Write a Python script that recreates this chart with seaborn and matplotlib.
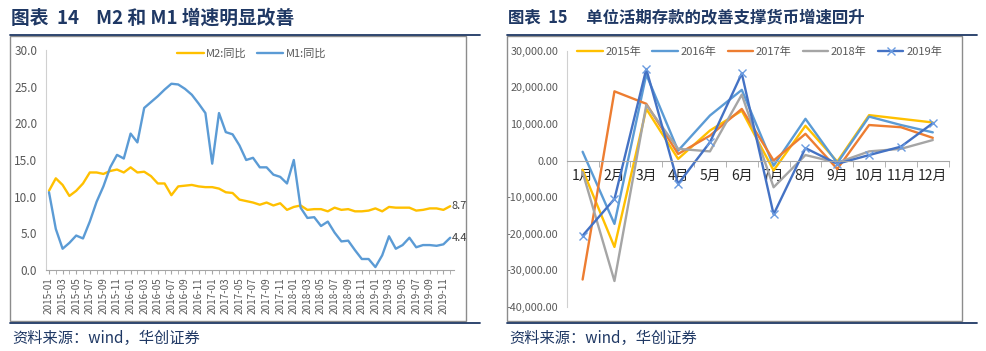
import numpy as np
import pandas as pd
import matplotlib
matplotlib.use('Agg')
import matplotlib.pyplot as plt
from matplotlib.patches import Rectangle
from matplotlib.lines import Line2D
from matplotlib.ticker import FuncFormatter, MultipleLocator
import seaborn as sns

sns.set_style('white')
plt.rcParams['font.family'] = ['Noto Sans CJK SC', 'DejaVu Sans']
plt.rcParams['axes.unicode_minus'] = False

# 左图：M2、M1 同比（%）
months = pd.date_range('2015-01-01', periods=60, freq='MS').strftime('%Y-%m').tolist()
m2_yoy = [10.8, 12.5, 11.6, 10.1, 10.8, 11.8, 13.3, 13.3, 13.1, 13.5, 13.7, 13.3,
          14.0, 13.3, 13.4, 12.8, 11.8, 11.8, 10.2, 11.4, 11.5, 11.6, 11.4, 11.3,
          11.3, 11.1, 10.6, 10.5, 9.6, 9.4, 9.2, 8.9, 9.2, 8.8, 9.1, 8.2,
          8.6, 8.8, 8.2, 8.3, 8.3, 8.0, 8.5, 8.2, 8.3, 8.0, 8.0, 8.1,
          8.4, 8.0, 8.6, 8.5, 8.5, 8.5, 8.1, 8.2, 8.4, 8.4, 8.2, 8.7]
m1_yoy = [10.6, 5.6, 2.9, 3.7, 4.7, 4.3, 6.6, 9.3, 11.4, 14.0, 15.7, 15.2,
          18.6, 17.4, 22.1, 22.9, 23.7, 24.6, 25.4, 25.3, 24.7, 23.9, 22.7, 21.4,
          14.5, 21.4, 18.8, 18.5, 17.0, 15.0, 15.3, 14.0, 14.0, 13.0, 12.7, 11.8,
          15.0, 8.5, 7.1, 7.2, 6.0, 6.6, 5.1, 3.9, 4.0, 2.7, 1.5, 1.5,
          0.4, 2.0, 4.6, 2.9, 3.4, 4.4, 3.1, 3.4, 3.4, 3.3, 3.5, 4.4]

# 右图：单位活期存款月度增量（亿元）
month_names = ['1月', '2月', '3月', '4月', '5月', '6月', '7月', '8月', '9月', '10月', '11月', '12月']
dep_2015 = [-2500, -23600, 14100, 450, 8200, 13600, -2700, 9500, -300, 12400, 11400, 10400]
dep_2016 = [2400, -17300, 23500, 2700, 12300, 19300, -1400, 11400, -700, 12000, 9700, 7700]
dep_2017 = [-32500, 18900, 15500, 1800, 6800, 14100, 0, 7300, -2300, 9700, 9100, 6200]
dep_2018 = [-3200, -32900, 15200, 3200, 2500, 18000, -7300, 1500, -600, 2500, 3200, 5600]
dep_2019 = [-20500, -10500, 25000, -6400, 5000, 23800, -14700, 3400, -900, 1500, 3800, 10200]

navy = '#1F3864'
tick_c = '#595959'

W, H = 987, 351
def fx(x):
    return x / W
def fy(y):
    return 1 - y / H

fig = plt.figure(figsize=(W / 100, H / 100), dpi=100)

# ---------- 外框、标题、来源 ----------
for x0, x1 in [(10, 466), (507, 962)]:
    fig.add_artist(Rectangle((fx(x0), fy(321)), (x1 - x0) / W, (321 - 36) / H,
                             transform=fig.transFigure, fill=False, edgecolor='#8C8C8C', lw=1))
for x0, x1 in [(10, 480), (507, 977)]:
    for y in (35, 323):
        fig.add_artist(Line2D([fx(x0), fx(x1)], [fy(y), fy(y)], transform=fig.transFigure,
                              color=navy, lw=1.3))

fig.text(fx(11), fy(18), '图表  14    M2 和 M1 增速明显改善', va='center', ha='left',
         fontsize=13.5, weight='bold', color=navy)
fig.text(fx(508), fy(18), '图表  15     单位活期存款的改善支撑货币增速回升', va='center', ha='left',
         fontsize=11.8, weight='bold', color=navy)
fig.text(fx(12), fy(338), '资料来源：wind，华创证券', va='center', ha='left',
         fontsize=11, color=navy, style='italic')
fig.text(fx(509), fy(338), '资料来源：wind，华创证券', va='center', ha='left',
         fontsize=11, color=navy, style='italic')

# ---------- 左图 ----------
ax1 = fig.add_axes([fx(45.6), fy(270), 408 / W, 220 / H])
df1 = pd.DataFrame({'idx': range(len(months)), 'M2:同比': m2_yoy, 'M1:同比': m1_yoy})
df1 = df1.melt(id_vars='idx', var_name='series', value_name='value')
sns.lineplot(data=df1, x='idx', y='value', hue='series', palette=['#FFC000', '#5B9BD5'],
             linewidth=1.7, ax=ax1, legend=False)
ax1.set_xlim(-0.5, len(months) - 0.5)
ax1.set_ylim(0, 30)
ax1.yaxis.set_major_locator(MultipleLocator(5))
ax1.yaxis.set_major_formatter(FuncFormatter(lambda v, p: f'{v:.1f}'))
ax1.set_xticks(range(0, len(months), 2))
ax1.set_xticklabels(months[::2], rotation=90, fontsize=7.2, color=tick_c)
ax1.set_xticks(range(len(months)), minor=True)
ax1.tick_params(axis='x', which='both', direction='out', length=3, color='#A6A6A6', pad=2, bottom=True)
ax1.tick_params(axis='y', length=0, labelsize=8.5, labelcolor=tick_c, pad=6)
ax1.set_xlabel('')
ax1.set_ylabel('')
for s in ['top', 'right']:
    ax1.spines[s].set_visible(False)
ax1.spines['left'].set_color('#D0D0D0')
ax1.spines['bottom'].set_color('#A6A6A6')
ax1.text(len(months) - 0.8, m2_yoy[-1], f'{m2_yoy[-1]:.1f}', ha='left', va='center', fontsize=8, color='#404040')
ax1.text(len(months) - 0.8, m1_yoy[-1], f'{m1_yoy[-1]:.1f}', ha='left', va='center', fontsize=8, color='#404040')
h1 = [Line2D([], [], color='#FFC000', lw=1.7), Line2D([], [], color='#5B9BD5', lw=1.7)]
fig.legend(h1, ['M2:同比', 'M1:同比'], loc='center left', bbox_to_anchor=(fx(167), fy(54)),
           bbox_transform=fig.transFigure, ncol=2, frameon=False, fontsize=8,
           handlelength=2.4, handletextpad=0.2, columnspacing=0.9, labelcolor=tick_c)

# ---------- 右图 ----------
ax2 = fig.add_axes([fx(566.7), fy(307), 382 / W, 256.3 / H])
years = ['2015年', '2016年', '2017年', '2018年', '2019年']
series = [dep_2015, dep_2016, dep_2017, dep_2018, dep_2019]
colors = ['#FFC000', '#5B9BD5', '#ED7D31', '#A5A5A5', '#4472C4']
handles = []
for yr, vals, c in zip(years, series, colors):
    d = pd.DataFrame({'idx': range(12), 'value': vals})
    mk = 'x' if yr == '2019年' else None
    sns.lineplot(data=d, x='idx', y='value', color=c, linewidth=1.7, ax=ax2,
                 marker=mk, markersize=6, markeredgecolor='#6A9BE0', markeredgewidth=1)
    handles.append(Line2D([], [], color=c, lw=1.7, marker=mk, markersize=6,
                          markeredgecolor='#6A9BE0'))
ax2.set_xlim(-0.5, 11.5)
ax2.set_ylim(-40000, 30000)
ax2.yaxis.set_major_locator(MultipleLocator(10000))
ax2.yaxis.set_major_formatter(FuncFormatter(lambda v, p: f'{v:,.2f}'))
ax2.set_xticks(range(12))
ax2.set_xticklabels(month_names, fontsize=7.5, color=tick_c)
ax2.set_xticks(np.arange(-0.5, 12, 1), minor=True)
ax2.tick_params(axis='x', which='major', length=0, pad=6)
ax2.tick_params(axis='x', which='minor', direction='out', length=4, color='#A6A6A6', bottom=True)
ax2.tick_params(axis='y', length=0, labelsize=7.8, labelcolor=tick_c, pad=6)
ax2.set_xlabel('')
ax2.set_ylabel('')
for s in ['top', 'right']:
    ax2.spines[s].set_visible(False)
ax2.spines['bottom'].set_position(('data', 0))
ax2.spines['bottom'].set_color('#A6A6A6')
ax2.spines['left'].set_color('#D0D0D0')
fig.legend(handles, years, loc='center left', bbox_to_anchor=(fx(567), fy(52)),
           bbox_transform=fig.transFigure, ncol=5, frameon=False, fontsize=8,
           handlelength=2.3, handletextpad=0.25, columnspacing=1.0, labelcolor=tick_c)

fig.savefig('out.png', dpi=100)
